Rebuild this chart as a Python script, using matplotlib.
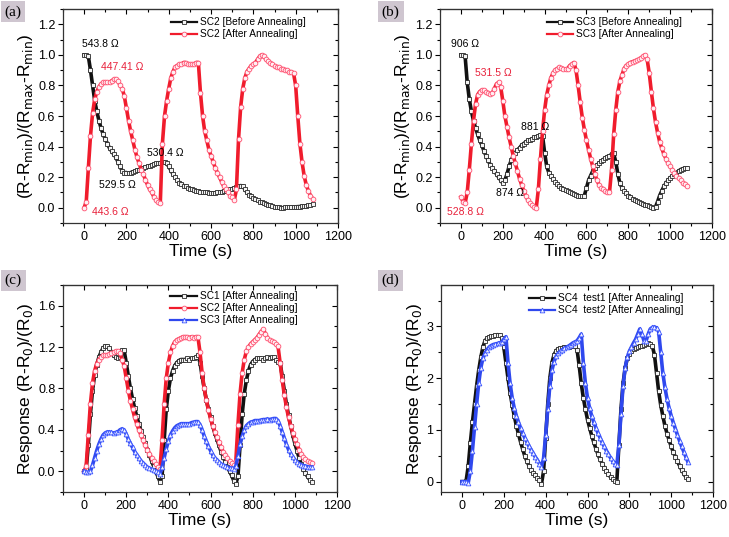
import matplotlib
matplotlib.use("Agg")
import matplotlib.pyplot as plt
import numpy as np
from matplotlib.ticker import MultipleLocator

plt.rcParams["font.family"] = ["Liberation Sans", "DejaVu Sans"]

# time axis, one reading every 10 s
time_s = np.arange(0, 1090, 10)

# (a) SC2, normalised resistance
sc2_before_norm = [
    1.0, 1.0, 0.99, 0.90, 0.80, 0.70, 0.63, 0.57, 0.52, 0.48,
    0.45, 0.42, 0.39, 0.37, 0.35, 0.33, 0.30, 0.27, 0.24, 0.23,
    0.23, 0.225, 0.23, 0.235, 0.24, 0.245, 0.25, 0.255, 0.26, 0.265,
    0.27, 0.275, 0.28, 0.285, 0.29, 0.29, 0.295, 0.30, 0.30, 0.29,
    0.27, 0.245, 0.22, 0.20, 0.18, 0.165, 0.155, 0.145, 0.14, 0.13,
    0.125, 0.12, 0.115, 0.11, 0.108, 0.105, 0.10, 0.10, 0.10, 0.098,
    0.097, 0.097, 0.098, 0.10, 0.10, 0.105, 0.108, 0.11, 0.115, 0.12,
    0.125, 0.13, 0.135, 0.14, 0.145, 0.14, 0.12, 0.10, 0.085, 0.075,
    0.065, 0.055, 0.048, 0.04, 0.035, 0.03, 0.025, 0.02, 0.015, 0.01,
    0.005, 0.005, 0.002, 0.0, 0.0, 0.002, 0.003, 0.004, 0.005, 0.005,
    0.006, 0.007, 0.008, 0.01, 0.011, 0.013, 0.015, 0.018, 0.022,
]
sc2_after_norm = [
    0.0, 0.04, 0.26, 0.47, 0.62, 0.71, 0.76, 0.79, 0.81, 0.82,
    0.82, 0.82, 0.82, 0.83, 0.84, 0.84, 0.83, 0.80, 0.78, 0.73,
    0.65, 0.57, 0.50, 0.44, 0.38, 0.33, 0.29, 0.25, 0.22, 0.18,
    0.15, 0.12, 0.10, 0.07, 0.05, 0.04, 0.03, 0.42, 0.60, 0.70,
    0.78, 0.85, 0.89, 0.92, 0.93, 0.94, 0.94, 0.95, 0.95, 0.94,
    0.94, 0.94, 0.94, 0.95, 0.95, 0.75, 0.60, 0.50, 0.44, 0.38,
    0.34, 0.30, 0.26, 0.23, 0.20, 0.17, 0.14, 0.12, 0.10, 0.08,
    0.07, 0.05, 0.12, 0.45, 0.66, 0.78, 0.85, 0.89, 0.91, 0.93,
    0.94, 0.95, 0.97, 0.99, 1.0, 0.99, 0.97, 0.96, 0.95, 0.94,
    0.93, 0.92, 0.92, 0.91, 0.91, 0.90, 0.90, 0.89, 0.89, 0.88,
    0.80, 0.60, 0.42, 0.30, 0.21, 0.15, 0.11, 0.08, 0.06,
]

# (b) SC3, normalised resistance
sc3_before_norm = [
    1.0, 1.0, 0.99, 0.82, 0.71, 0.63, 0.57, 0.52, 0.48, 0.44,
    0.41, 0.37, 0.34, 0.31, 0.28, 0.26, 0.24, 0.22, 0.20, 0.18,
    0.16, 0.18, 0.22, 0.27, 0.31, 0.34, 0.36, 0.38, 0.39, 0.41,
    0.42, 0.43, 0.44, 0.445, 0.45, 0.46, 0.465, 0.47, 0.475, 0.47,
    0.36, 0.27, 0.23, 0.21, 0.19, 0.17, 0.155, 0.14, 0.13, 0.12,
    0.115, 0.11, 0.10, 0.095, 0.09, 0.085, 0.08, 0.075, 0.075, 0.08,
    0.13, 0.18, 0.21, 0.24, 0.26, 0.28, 0.29, 0.305, 0.315, 0.325,
    0.335, 0.34, 0.35, 0.355, 0.30, 0.22, 0.16, 0.13, 0.11, 0.095,
    0.08, 0.07, 0.06, 0.05, 0.045, 0.035, 0.03, 0.025, 0.02, 0.015,
    0.01, 0.005, 0.0, 0.005, 0.04, 0.08, 0.11, 0.14, 0.16, 0.18,
    0.195, 0.21, 0.22, 0.23, 0.24, 0.25, 0.255, 0.26, 0.26,
]
sc3_after_norm = [
    0.07, 0.04, 0.03, 0.10, 0.25, 0.42, 0.57, 0.68, 0.74, 0.76,
    0.77, 0.77, 0.76, 0.75, 0.745, 0.75, 0.78, 0.81, 0.82, 0.79,
    0.70, 0.60, 0.53, 0.46, 0.40, 0.34, 0.29, 0.24, 0.19, 0.15,
    0.11, 0.08, 0.05, 0.03, 0.015, 0.005, 0.0, 0.12, 0.32, 0.50,
    0.64, 0.74, 0.80, 0.85, 0.88, 0.90, 0.91, 0.92, 0.915, 0.91,
    0.905, 0.91, 0.93, 0.94, 0.95, 0.90, 0.80, 0.69, 0.59, 0.51,
    0.44, 0.38, 0.32, 0.27, 0.22, 0.18, 0.15, 0.13, 0.12, 0.11,
    0.105, 0.10, 0.25, 0.48, 0.64, 0.76, 0.83, 0.87, 0.91, 0.93,
    0.94, 0.95, 0.955, 0.96, 0.965, 0.97, 0.98, 0.99, 1.0, 0.97,
    0.88, 0.76, 0.65, 0.56, 0.49, 0.43, 0.39, 0.35, 0.32, 0.29,
    0.27, 0.25, 0.23, 0.21, 0.195, 0.18, 0.165, 0.155, 0.145,
]

# (c) response of SC1..SC3 after annealing
sc1_resp = [
    0.0, 0.02, 0.25, 0.55, 0.78, 0.93, 1.03, 1.10, 1.15, 1.19,
    1.21, 1.21, 1.19, 1.15, 1.12, 1.10, 1.09, 1.10, 1.17, 1.17,
    1.05, 0.92, 0.80, 0.70, 0.61, 0.53, 0.46, 0.39, 0.33, 0.27,
    0.21, 0.16, 0.10, 0.05, 0.0, -0.05, -0.10, -0.05, 0.30, 0.60,
    0.78, 0.90, 0.97, 1.02, 1.05, 1.07, 1.08, 1.08, 1.08, 1.09,
    1.08, 1.09, 1.09, 1.10, 1.12, 1.05, 0.92, 0.80, 0.69, 0.60,
    0.52, 0.44, 0.37, 0.31, 0.25, 0.19, 0.14, 0.09, 0.04, 0.0,
    -0.04, -0.09, -0.12, -0.05, 0.25, 0.55, 0.75, 0.88, 0.97, 1.03,
    1.06, 1.08, 1.09, 1.09, 1.09, 1.08, 1.09, 1.10, 1.09, 1.10,
    1.10, 1.08, 1.06, 1.05, 0.92, 0.78, 0.65, 0.54, 0.44, 0.35,
    0.27, 0.20, 0.13, 0.07, 0.02, -0.02, -0.05, -0.08, -0.10,
]
sc2_resp = [
    0.0, 0.05, 0.35, 0.65, 0.85, 0.97, 1.04, 1.08, 1.10, 1.12,
    1.12, 1.12, 1.13, 1.14, 1.15, 1.16, 1.16, 1.14, 1.08, 1.02,
    0.90, 0.78, 0.68, 0.60, 0.52, 0.46, 0.40, 0.35, 0.30, 0.25,
    0.21, 0.17, 0.13, 0.10, 0.07, 0.04, 0.02, 0.30, 0.65, 0.90,
    1.05, 1.15, 1.21, 1.25, 1.27, 1.28, 1.29, 1.30, 1.30, 1.30,
    1.29, 1.30, 1.29, 1.30, 1.30, 1.15, 0.95, 0.80, 0.69, 0.59,
    0.51, 0.44, 0.38, 0.33, 0.28, 0.23, 0.19, 0.16, 0.13, 0.10,
    0.08, 0.06, 0.10, 0.45, 0.75, 0.95, 1.08, 1.16, 1.20, 1.23,
    1.25, 1.27, 1.29, 1.32, 1.35, 1.37, 1.33, 1.29, 1.27, 1.26,
    1.25, 1.23, 1.21, 1.05, 0.88, 0.74, 0.62, 0.52, 0.44, 0.37,
    0.31, 0.26, 0.21, 0.17, 0.14, 0.12, 0.10, 0.09, 0.08,
]
sc3_resp = [
    0.0, -0.01, -0.01, 0.0, 0.06, 0.13, 0.20, 0.26, 0.31, 0.35,
    0.37, 0.38, 0.38, 0.375, 0.37, 0.375, 0.38, 0.40, 0.41, 0.40,
    0.36, 0.31, 0.27, 0.23, 0.19, 0.16, 0.13, 0.10, 0.08, 0.06,
    0.04, 0.03, 0.02, 0.01, 0.0, -0.01, -0.03, 0.04, 0.13, 0.22,
    0.29, 0.35, 0.39, 0.42, 0.44, 0.45, 0.46, 0.46, 0.46, 0.46,
    0.46, 0.47, 0.475, 0.48, 0.48, 0.45, 0.40, 0.34, 0.29, 0.24,
    0.20, 0.16, 0.13, 0.11, 0.09, 0.07, 0.06, 0.05, 0.04, 0.035,
    0.03, 0.02, 0.05, 0.15, 0.26, 0.34, 0.40, 0.44, 0.46, 0.475,
    0.48, 0.49, 0.49, 0.49, 0.495, 0.50, 0.50, 0.505, 0.50, 0.505,
    0.51, 0.51, 0.49, 0.44, 0.38, 0.32, 0.26, 0.21, 0.17, 0.14,
    0.11, 0.09, 0.075, 0.065, 0.055, 0.05, 0.045, 0.04, 0.04,
]

# (d) SC4 repeated tests
sc4_test1 = [
    0.0, 0.0, 0.02, 0.3, 0.75, 1.15, 1.5, 1.85, 2.15, 2.4,
    2.6, 2.72, 2.77, 2.8, 2.81, 2.82, 2.83, 2.84, 2.83, 2.78,
    2.6, 2.3, 2.0, 1.72, 1.48, 1.27, 1.08, 0.92, 0.77, 0.63,
    0.5, 0.4, 0.31, 0.23, 0.17, 0.12, 0.07, 0.03, -0.04, 0.2,
    0.85, 1.5, 2.0, 2.3, 2.45, 2.53, 2.57, 2.58, 2.59, 2.6,
    2.6, 2.61, 2.62, 2.63, 2.63, 2.55, 2.25, 1.9, 1.62, 1.4,
    1.2, 1.04, 0.89, 0.76, 0.64, 0.53, 0.43, 0.35, 0.27, 0.2,
    0.14, 0.09, 0.05, 0.01, 0.0, 0.7, 1.4, 1.9, 2.2, 2.38,
    2.47, 2.52, 2.56, 2.59, 2.61, 2.62, 2.63, 2.64, 2.66, 2.67,
    2.66, 2.62, 2.45, 2.1, 1.75, 1.48, 1.27, 1.08, 0.93, 0.8,
    0.68, 0.57, 0.48, 0.39, 0.31, 0.23, 0.16, 0.09, 0.05,
]
sc4_test2 = [
    0.0, 0.0, 0.0, -0.02, 0.2, 0.6, 1.05, 1.5, 1.9, 2.2,
    2.38, 2.48, 2.55, 2.6, 2.63, 2.65, 2.66, 2.67, 2.68, 2.7,
    2.75, 2.8, 2.3, 1.9, 1.62, 1.42, 1.27, 1.15, 1.04, 0.94,
    0.85, 0.77, 0.69, 0.62, 0.55, 0.48, 0.42, 0.35, 0.28, 0.45,
    0.9, 1.4, 1.85, 2.15, 2.32, 2.42, 2.48, 2.52, 2.55, 2.58,
    2.6, 2.62, 2.65, 2.68, 2.7, 2.72, 2.78, 2.85, 2.3, 1.9,
    1.62, 1.42, 1.27, 1.15, 1.04, 0.94, 0.85, 0.76, 0.68, 0.6,
    0.53, 0.46, 0.4, 0.35, 0.32, 0.7, 1.3, 1.85, 2.2, 2.4,
    2.52, 2.6, 2.68, 2.75, 2.85, 2.95, 2.85, 2.72, 2.72, 2.85,
    2.95, 2.98, 2.99, 2.97, 2.9, 2.5, 2.1, 1.82, 1.6, 1.42,
    1.27, 1.14, 1.02, 0.9, 0.79, 0.68, 0.58, 0.48, 0.38,
]

# styles
BLACK = dict(color="#111111", marker="s", mfc="#f4f4f4", mec="#2a2a2a")
RED = dict(color="#f01c2c", marker="o", mfc="#fff0f3", mec="#ff5070")
BLUE = dict(color="#2f48ee", marker="^", mfc="#eef0ff", mec="#3c56ff")
line_kw = dict(lw=2.6, ms=3.4, mew=0.6)

fig = plt.figure(figsize=(7.29, 5.37), dpi=100)
ax_a = fig.add_axes([0.0864, 0.5847, 0.3772, 0.3985])
ax_b = fig.add_axes([0.6036, 0.5847, 0.3731, 0.3985])
ax_c = fig.add_axes([0.0864, 0.0838, 0.3759, 0.3855])
ax_d = fig.add_axes([0.6050, 0.0838, 0.3731, 0.3855])


def style_axis(ax, ylim, major, minor, fmt):
    ax.set_xlim(-100, 1200)
    ax.set_ylim(*ylim)
    ax.xaxis.set_major_locator(MultipleLocator(200))
    ax.xaxis.set_minor_locator(MultipleLocator(100))
    ax.yaxis.set_major_locator(MultipleLocator(major))
    ax.yaxis.set_minor_locator(MultipleLocator(minor))
    ax.yaxis.set_major_formatter(matplotlib.ticker.FormatStrFormatter(fmt))
    ax.tick_params(which="both", direction="out", labelsize=9, width=0.8,
                   top=False, right=False, pad=2)
    ax.tick_params(which="major", length=3.5)
    ax.tick_params(which="minor", length=2)
    # mirrored inward ticks on top and right
    sec_x = ax.secondary_xaxis("top")
    sec_x.xaxis.set_major_locator(MultipleLocator(200))
    sec_x.xaxis.set_minor_locator(MultipleLocator(100))
    sec_x.tick_params(which="both", direction="in", labeltop=False, width=0.8)
    sec_x.tick_params(which="major", length=3.5)
    sec_x.tick_params(which="minor", length=2)
    sec_y = ax.secondary_yaxis("right")
    sec_y.yaxis.set_major_locator(MultipleLocator(major))
    sec_y.yaxis.set_minor_locator(MultipleLocator(minor))
    sec_y.tick_params(which="both", direction="in", labelright=False, width=0.8)
    sec_y.tick_params(which="major", length=3.5)
    sec_y.tick_params(which="minor", length=2)
    for sp in ax.spines.values():
        sp.set_linewidth(0.9)
        sp.set_color("#333333")
    ax.set_xlabel("Time (s)", fontsize=12.5, labelpad=1)


def add_legend(ax, anchor):
    leg = ax.legend(loc="upper left", bbox_to_anchor=anchor, frameon=False,
                    fontsize=7.3, handlelength=2.6, handletextpad=0.3,
                    labelspacing=0.2, borderaxespad=0.2)
    for ln in leg.get_lines():
        ln.set_linewidth(1.6)
    return leg


norm_label = r"(R-R$_{\rm min}$)/(R$_{\rm max}$-R$_{\rm min}$)"
resp_label = r"Response (R-R$_0$)/(R$_0$)"

# (a)
ax_a.plot(time_s, sc2_before_norm, label="SC2 [Before Annealing]", **BLACK, **line_kw)
ax_a.plot(time_s, sc2_after_norm, label="SC2 [After Annealing]", **RED, **line_kw)
style_axis(ax_a, (-0.1, 1.3), 0.2, 0.1, "%.1f")
ax_a.set_ylabel(norm_label, fontsize=12.5, labelpad=2)
add_legend(ax_a, (0.37, 0.99))
ann = dict(fontsize=7.5, ha="left", va="center")
ax_a.text(-9, 1.07, "543.8 Ω", color="black", **ann)
ax_a.text(80, 0.92, "447.41 Ω", color="#e8203a", **ann)
ax_a.text(296, 0.357, "530.4 Ω", color="black", **ann)
ax_a.text(70, 0.15, "529.5 Ω", color="black", **ann)
ax_a.text(38, -0.026, "443.6 Ω", color="#e8203a", **ann)

# (b)
ax_b.plot(time_s, sc3_before_norm, label="SC3 [Before Annealing]", **BLACK, **line_kw)
ax_b.plot(time_s, sc3_after_norm, label="SC3 [After Annealing]", **RED, **line_kw)
style_axis(ax_b, (-0.1, 1.3), 0.2, 0.1, "%.1f")
ax_b.set_ylabel(norm_label, fontsize=12.5, labelpad=2)
add_legend(ax_b, (0.37, 0.99))
ax_b.text(-48, 1.07, "906 Ω", color="black", **ann)
ax_b.text(67, 0.88, "531.5 Ω", color="#e8203a", **ann)
ax_b.text(288, 0.525, "881 Ω", color="black", **ann)
ax_b.text(168, 0.097, "874 Ω", color="black", **ann)
ax_b.text(-67, -0.026, "528.8 Ω", color="#e8203a", **ann)

# (c)
ax_c.plot(time_s, sc1_resp, label="SC1 [After Annealing]", **BLACK, **line_kw)
ax_c.plot(time_s, sc2_resp, label="SC2 [After Annealing]", **RED, **line_kw)
ax_c.plot(time_s, sc3_resp, label="SC3 [After Annealing]", **BLUE, **line_kw)
style_axis(ax_c, (-0.2, 1.8), 0.4, 0.2, "%.1f")
ax_c.set_ylabel(resp_label, fontsize=12.5, labelpad=2)
add_legend(ax_c, (0.37, 1.0))

# (d)
ax_d.plot(time_s, sc4_test1, label="SC4  test1 [After Annealing]", **BLACK, **line_kw)
ax_d.plot(time_s, sc4_test2, label="SC4  test2 [After Annealing]", **BLUE, **line_kw)
style_axis(ax_d, (-0.2, 3.8), 1, 0.5, "%d")
ax_d.set_ylabel(resp_label, fontsize=12.5, labelpad=2)
add_legend(ax_d, (0.3, 0.99))

# panel letters in shaded boxes
box = dict(boxstyle="square,pad=0.25", fc="#cfc6d0", ec="none")
for x, y, s in [(0.018, 0.978, "(a)"), (0.536, 0.978, "(b)"),
                (0.018, 0.478, "(c)"), (0.536, 0.478, "(d)")]:
    fig.text(x, y, s, fontsize=11, family="Liberation Serif", ha="center",
             va="center", bbox=box)

fig.savefig("out.png", dpi=100)
